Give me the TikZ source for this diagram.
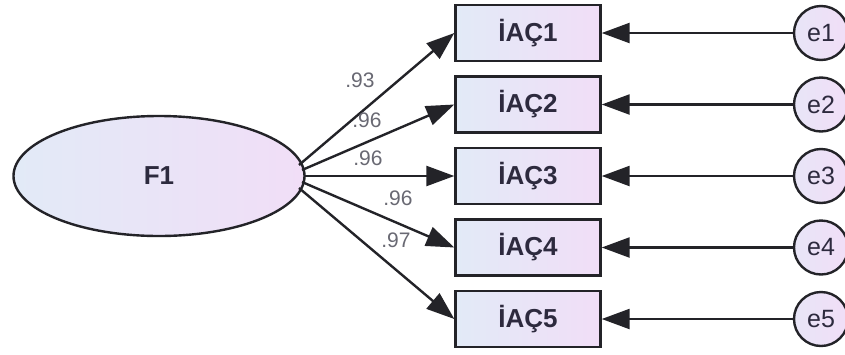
\documentclass[tikz,border=0pt]{standalone}
\usepackage{fontspec}
\setmainfont{Liberation Sans}
\usetikzlibrary{arrows.meta,shapes.geometric}
\definecolor{fillL}{RGB}{226,234,247}
\definecolor{fillR}{RGB}{241,222,247}
\definecolor{edge}{RGB}{35,35,40}
\definecolor{lbl}{RGB}{105,105,115}
\definecolor{txt}{RGB}{45,42,62}
\tikzset{
  obs/.style={draw=edge, line width=2.4pt, rectangle, minimum width=145pt, minimum height=56pt,
    left color=fillL, right color=fillR, text=txt, font=\fontsize{26}{26}\selectfont\bfseries, inner sep=0pt},
  lat/.style={draw=edge, line width=2.4pt, ellipse, minimum width=291pt, minimum height=120pt,
    left color=fillL, right color=fillR, text=txt, font=\fontsize{26}{26}\selectfont\bfseries, inner sep=0pt},
  err/.style={draw=edge, line width=2.4pt, circle, minimum size=54pt, inner sep=0pt,
    left color=fillL!60!fillR, right color=fillR, text=txt, font=\fontsize{25}{25}\selectfont},
  arr/.style={draw=edge, line width=2.4pt, -{Triangle[length=28pt,width=20pt]}},
  ld/.style={text=lbl, font=\fontsize{21}{21}\selectfont, inner sep=0pt}
}
\begin{document}
\begin{tikzpicture}[x=1pt,y=-1pt]
\useasboundingbox (0,0) rectangle (845,354);
\fill[white] (0,0) rectangle (845,354);
\node[lat] (F) at (159,176) {F1};
\node[obs] (b1) at (528,33) {İAÇ1};
\node[obs] (b2) at (528,104.5) {İAÇ2};
\node[obs] (b3) at (528,176) {İAÇ3};
\node[obs] (b4) at (528,247.5) {İAÇ4};
\node[obs] (b5) at (528,319) {İAÇ5};
\node[err] (e1) at (821,33) {e1};
\node[err] (e2) at (821,104.5) {e2};
\node[err] (e3) at (821,176) {e3};
\node[err] (e4) at (821,247.5) {e4};
\node[err] (e5) at (821,319) {e5};
\coordinate (s1) at (299,165);
\coordinate (s2) at (302,170);
\coordinate (s3) at (304,176);
\coordinate (s4) at (302,182);
\coordinate (s5) at (299,188);
\draw[arr] (s1) -- (b1.west);
\draw[arr] (s2) -- (b2.west);
\draw[arr] (s3) -- (b3.west);
\draw[arr] (s4) -- (b4.west);
\draw[arr] (s5) -- (b5.west);
\foreach \i in {1,...,5} {\draw[arr] (e\i) -- (b\i.east);}
\node[ld] (l1) at (360,80) {.93};
\node[ld] (l2) at (367,120) {.96};
\node[ld] (l3) at (368,158) {.96};
\node[ld] (l4) at (398,198) {.96};
\node[ld] (l5) at (396,240) {.97};
\end{tikzpicture}
\end{document}
